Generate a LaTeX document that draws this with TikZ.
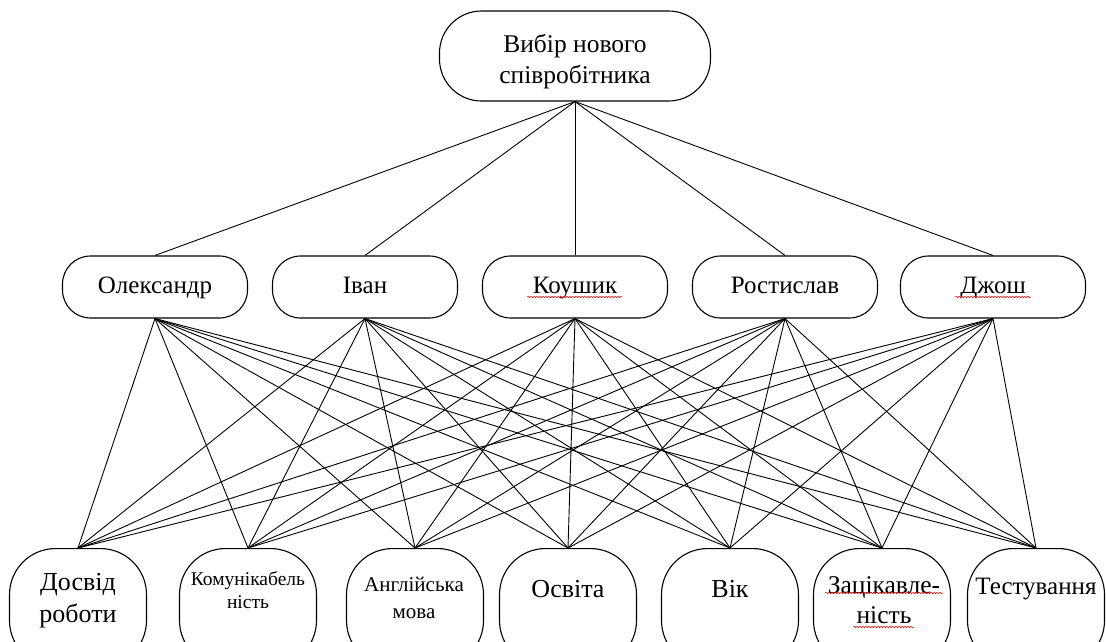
\documentclass[tikz,border=0pt]{standalone}
\usepackage{fontspec}
\setmainfont{Liberation Serif}
\usetikzlibrary{decorations.pathmorphing}
\tikzset{
  topbox/.style={draw, line width=1.1pt, rounded corners=42pt, minimum width=271pt, minimum height=90pt, align=center, font=\fontsize{25.5}{31}\selectfont},
  midbox/.style={draw, line width=1.1pt, rounded corners=28pt, minimum width=185pt, minimum height=62pt, text height=17pt, text depth=5pt, font=\fontsize{25}{28}\selectfont},
  botbox/.style={draw, line width=1.1pt, rounded corners=46pt, minimum width=137pt, minimum height=118pt, anchor=north},
  bottext/.style={align=center, inner sep=0pt},
  link/.style={line width=0.9pt},
  spell/.style={red, line width=0.5pt, decorate, decoration={snake, amplitude=0.8pt, segment length=3pt}}
}
\begin{document}
\begin{tikzpicture}[x=1pt,y=-1pt]
\useasboundingbox (0,0) rectangle (1106,641);
\clip (0,0) rectangle (1106,641);
% top
\node[topbox] (top) at (575,56) {\rule{0pt}{30pt}Вибір нового\\співробітника};
% middle
\node[midbox] (m1) at (155,287) {Олександр};
\node[midbox] (m2) at (365,287) {Іван};
\node[midbox] (m3) at (575,287) {Коушик};
\node[midbox] (m4) at (785,287) {Ростислав};
\node[midbox] (m5) at (993,287) {Джош};
% bottom boxes
\node[botbox] (b1) at (78,548) {};
\node[botbox] (b2) at (248,548) {};
\node[botbox] (b3) at (415,548) {};
\node[botbox] (b4) at (568,548) {};
\node[botbox] (b5) at (730,548) {};
\node[botbox] (b6) at (882,548) {};
\node[botbox] (b7) at (1036,548) {};
% bottom texts
\node[bottext, font=\fontsize{26}{32}\selectfont] (t1) at (78,601) {Досвід\\роботи};
\node[bottext, font=\fontsize{19.5}{23}\selectfont] (t2) at (248,590) {Комунікабель\\ність};
\node[bottext, font=\fontsize{21}{27}\selectfont] (t3) at (414,598) {Англійська\\мова};
\node[bottext, font=\fontsize{26}{30}\selectfont] (t4) at (568,589) {Освіта};
\node[bottext, font=\fontsize{26}{30}\selectfont] (t5) at (730,589) {Вік};
\node[bottext, font=\fontsize{25.5}{30}\selectfont] (t6) at (884,600) {Зацікавле-\\ність};
\node[bottext, font=\fontsize{25}{30}\selectfont] (t7) at (1036,589) {Тестування};
% spell-check underlines
\draw[spell] (527,297) -- (622,297);
\draw[spell] (955,297) -- (1031,297);
\draw[spell] (825,593) -- (943,593);
\draw[spell] (853,627) -- (914,627);
% connectors top -> middle
\foreach \m in {m1,m2,m3,m4,m5}{
  \draw[link] (top.south) -- (\m.north);
}
% connectors middle -> bottom
\foreach \m in {m1,m2,m3,m4,m5}{
  \foreach \b in {b1,b2,b3,b4,b5,b6,b7}{
    \draw[link] (\m.south) -- (\b.north);
  }
}
\end{tikzpicture}
\end{document}
